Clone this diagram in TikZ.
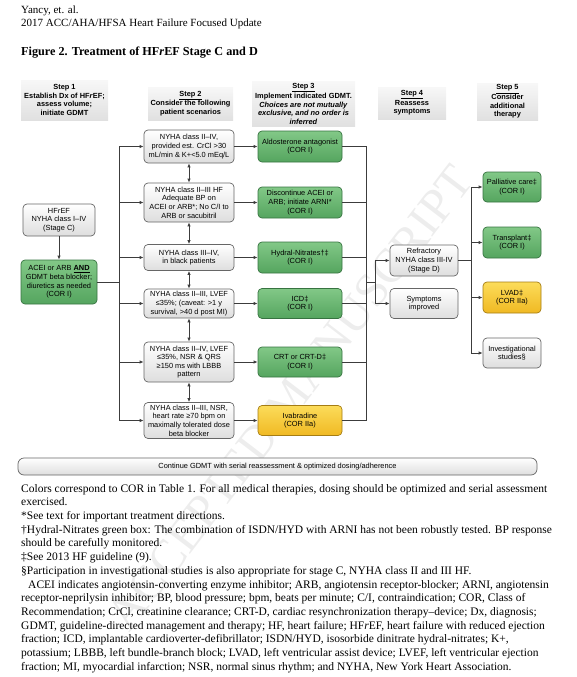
\documentclass[tikz,border=0pt]{standalone}
\usepackage{fontspec}
\setmainfont{Liberation Serif}
\newfontfamily\diag{Liberation Sans}
\usetikzlibrary{arrows.meta,shadings}
\definecolor{gtop}{RGB}{130,200,135}
\definecolor{gbot}{RGB}{85,165,95}
\definecolor{gbd}{RGB}{55,115,65}
\definecolor{ytop}{RGB}{252,220,90}
\definecolor{ybot}{RGB}{240,185,35}
\definecolor{ybd}{RGB}{165,125,20}
\definecolor{cn}{RGB}{60,60,60}
\begin{document}
\begin{tikzpicture}[x=1pt,y=-1pt,
  dg/.style={font=\diag\fontsize{7.4}{8.6}\selectfont, align=center, inner sep=0pt, rounded corners=4pt, line width=0.7pt},
  wbox/.style={dg, draw=black!60, top color=white, bottom color=black!13},
  gbox/.style={dg, draw=gbd, top color=gtop, bottom color=gbot},
  ybox/.style={dg, draw=ybd, top color=ytop, bottom color=ybot},
  hdr/.style={dg, font=\diag\bfseries\fontsize{7.4}{8.6}\selectfont, top color=black!3, bottom color=black!12, rounded corners=0pt},
  ln/.style={draw=cn, line width=0.8pt, line cap=rect},
  arr/.style={ln, -{Latex[length=4pt,width=3.4pt]}},
  darr/.style={ln, {Latex[length=4pt,width=3.4pt]}-{Latex[length=4pt,width=3.4pt]}},
  txt/.style={inner sep=0pt, align=left, anchor=north west}
]
\useasboundingbox (0,0) rectangle (576,677);
% watermark
\node[rotate=52.6, font=\fontsize{48}{48}\selectfont, text=black!7] (wm) at (290,398) {ACCEPTED MANUSCRIPT};

% page header
\node[txt, font=\fontsize{11}{13.5}\selectfont] (head) at (21,3.6) {\strut Yancy, et. al.\\2017 ACC/AHA/HFSA Heart Failure Focused Update};
\node[txt, anchor=base west, font=\bfseries\fontsize{12.2}{14}\selectfont] (title) at (21,56) {Figure 2. Treatment of HF\textit{r}EF Stage C and D};

% step headers
\node[hdr, minimum width=87pt, minimum height=40pt] (h1) at (64.5,100) {Step 1\\Establish Dx of HF\textit{r}EF;\\assess volume;\\initiate GDMT};
\node[hdr, minimum width=85pt, minimum height=33pt] (h2) at (190.5,103.5) {\underline{Step 2}\\Consider the following\\patient scenarios};
\node[hdr, minimum width=103pt, minimum height=45pt] (h3) at (303.5,104) {\underline{Step 3}\\Implement indicated GDMT.\\\textit{Choices are not mutually}\\\textit{exclusive, and no order is}\\\textit{inferred}};
\node[hdr, minimum width=68pt, minimum height=32pt] (h4) at (412,103) {\underline{Step 4}\\Reassess\\symptoms};
\node[hdr, minimum width=61pt, minimum height=37pt] (h5) at (507.5,101.5) {\underline{Step 5}\\Consider\\additional\\therapy};

% step 1
\node[wbox, minimum width=72pt, minimum height=32pt] (hf) at (59,220) {HF\textit{r}EF\\NYHA class I–IV\\(Stage C)};
\node[gbox, minimum width=76pt, minimum height=44pt] (acei) at (59,282) {ACEI or ARB \underline{\textbf{AND}}\\GDMT beta blocker;\\diuretics as needed\\(COR I)};

% step 2
\node[wbox, minimum width=90pt, minimum height=33pt] (s2a) at (189,146.5) {NYHA class II–IV,\\provided est. CrCl >30\\mL/min \& K+<5.0 mEq/L};
\node[wbox, minimum width=90pt, minimum height=39pt] (s2b) at (189,202.5) {NYHA class II–III HF\\Adequate BP on\\ACEI or ARB*; No C/I to\\ARB or sacubitril};
\node[wbox, minimum width=90pt, minimum height=26pt] (s2c) at (189,257.5) {NYHA class III–IV,\\in black patients};
\node[wbox, minimum width=90pt, minimum height=29pt] (s2d) at (189,303.5) {NYHA class II–III, LVEF\\≤35\%; (caveat: >1 y\\survival, >40 d post MI)};
\node[wbox, minimum width=90pt, minimum height=40pt] (s2e) at (189,362) {NYHA class II–IV, LVEF\\≤35\%, NSR \& QRS\\≥150 ms with LBBB\\pattern};
\node[wbox, minimum width=90pt, minimum height=36pt] (s2f) at (189,420.5) {NYHA class II–III, NSR,\\heart rate ≥70 bpm on\\maximally tolerated dose\\beta blocker};

% step 3
\node[gbox, minimum width=84pt, minimum height=31pt] (s3a) at (300,146.5) {Aldosterone antagonist\\(COR I)};
\node[gbox, minimum width=84pt, minimum height=31pt] (s3b) at (300,202.5) {Discontinue ACEI or\\ARB; initiate ARNI*\\(COR I)};
\node[gbox, minimum width=84pt, minimum height=31pt] (s3c) at (300,257.5) {Hydral-Nitrates†‡\\(COR I)};
\node[gbox, minimum width=84pt, minimum height=30pt] (s3d) at (300,303.5) {ICD‡\\(COR I)};
\node[gbox, minimum width=84pt, minimum height=30pt] (s3e) at (300,362) {CRT or CRT-D‡\\(COR I)};
\node[ybox, minimum width=84pt, minimum height=30pt] (s3f) at (300,420.5) {Ivabradine\\(COR IIa)};

% step 4
\node[wbox, minimum width=68pt, minimum height=31pt] (refr) at (424,260.5) {Refractory\\NYHA class III-IV\\(Stage D)};
\node[wbox, minimum width=68pt, minimum height=30pt] (symp) at (424,303.5) {Symptoms\\improved};

% step 5
\node[gbox, minimum width=58pt, minimum height=30pt] (p5a) at (512,187) {Palliative care‡\\(COR I)};
\node[gbox, minimum width=58pt, minimum height=31pt] (p5b) at (512,242.5) {Transplant‡\\(COR I)};
\node[ybox, minimum width=58pt, minimum height=31pt] (p5c) at (512,297.5) {LVAD‡\\(COR IIa)};
\node[wbox, minimum width=58pt, minimum height=30pt] (p5d) at (512,353) {Investigational\\studies§};

% continue bar
\node[wbox, rounded corners=6pt, minimum width=519pt, minimum height=17pt] (cont) at (277.5,466.5) {Continue GDMT with serial reassessment \& optimized dosing/adherence};

% connectors step 1 -> step 2
\draw[arr] (hf) -- (acei);
\coordinate (b0) at (119,282);
\coordinate (b1) at (119,146.5);
\coordinate (b2) at (119,202.5);
\coordinate (b3) at (119,257.5);
\coordinate (b4) at (119,303.5);
\coordinate (b5) at (119,362);
\coordinate (b6) at (119,420.5);
\draw[ln] (acei) -- (b0);
\draw[ln] (b1) -- (b6);
\draw[arr] (b1) -- (s2a);
\draw[arr] (b2) -- (s2b);
\draw[arr] (b3) -- (s2c);
\draw[arr] (b4) -- (s2d);
\draw[arr] (b5) -- (s2e);
\draw[arr] (b6) -- (s2f);
% between scenarios
\draw[darr] (s2a) -- (s2b);
\draw[darr] (s2b) -- (s2c);
\draw[darr] (s2c) -- (s2d);
\draw[darr] (s2d) -- (s2e);
\draw[darr] (s2e) -- (s2f);
% step 2 -> step 3
\draw[arr] (s2a) -- (s3a);
\draw[arr] (s2b) -- (s3b);
\draw[arr] (s2c) -- (s3c);
\draw[arr] (s2d) -- (s3d);
\draw[arr] (s2e) -- (s3e);
\draw[arr] (s2f) -- (s3f);
% collector
\coordinate (c1) at (366,146.5);
\coordinate (c2) at (366,202.5);
\coordinate (c3) at (366,257.5);
\coordinate (c4) at (366,303.5);
\coordinate (c5) at (366,362);
\coordinate (c6) at (366,420.5);
\draw[ln] (s3a) -- (c1) -- (c6) -- (s3f);
\draw[ln] (s3b) -- (c2);
\draw[ln] (s3c) -- (c3);
\draw[ln] (s3d) -- (c4);
\draw[ln] (s3e) -- (c5);
\coordinate (m0) at (366,282);
\coordinate (m1) at (375,282);
\coordinate (mt) at (375,260.5);
\coordinate (mb) at (375,303.5);
\draw[ln] (m0) -- (m1);
\draw[ln] (mt) -- (mb);
\draw[arr] (mt) -- (refr);
\draw[arr] (mb) -- (symp);
% step 4 -> step 5
\coordinate (r0) at (471,260.5);
\coordinate (r1) at (471,187);
\coordinate (r2) at (471,242.5);
\coordinate (r3) at (471,297.5);
\coordinate (r4) at (471,353);
\draw[ln] (refr) -- (r0);
\draw[ln] (r1) -- (r4);
\draw[arr] (r1) -- (p5a);
\draw[arr] (r2) -- (p5b);
\draw[arr] (r3) -- (p5c);
\draw[arr] (r4) -- (p5d);

% footnotes
\node[txt, font=\fontsize{11.5}{13.7}\selectfont] (notes) at (21,482.4) {\strut Colors correspond to COR in Table 1. For all medical therapies, dosing should be optimized and serial assessment\\
exercised.\\
*See text for important treatment directions.\\
†Hydral-Nitrates green box: The combination of ISDN/HYD with ARNI has not been robustly tested. BP response\\
should be carefully monitored.\\
‡See 2013 HF guideline (9).\\
§Participation in investigational studies is also appropriate for stage C, NYHA class II and III HF.\\
\hspace*{7pt}ACEI indicates angiotensin-converting enzyme inhibitor; ARB, angiotensin receptor-blocker; ARNI, angiotensin\\
receptor-neprilysin inhibitor; BP, blood pressure; bpm, beats per minute; C/I, contraindication; COR, Class of\\
Recommendation; CrCl, creatinine clearance; CRT-D, cardiac resynchronization therapy–device; Dx, diagnosis;\\
GDMT, guideline-directed management and therapy; HF, heart failure; HF\textit{r}EF, heart failure with reduced ejection\\
fraction; ICD, implantable cardioverter-defibrillator; ISDN/HYD, isosorbide dinitrate hydral-nitrates; K+,\\
potassium; LBBB, left bundle-branch block; LVAD, left ventricular assist device; LVEF, left ventricular ejection\\
fraction; MI, myocardial infarction; NSR, normal sinus rhythm; and NYHA, New York Heart Association.};
\end{tikzpicture}
\end{document}
